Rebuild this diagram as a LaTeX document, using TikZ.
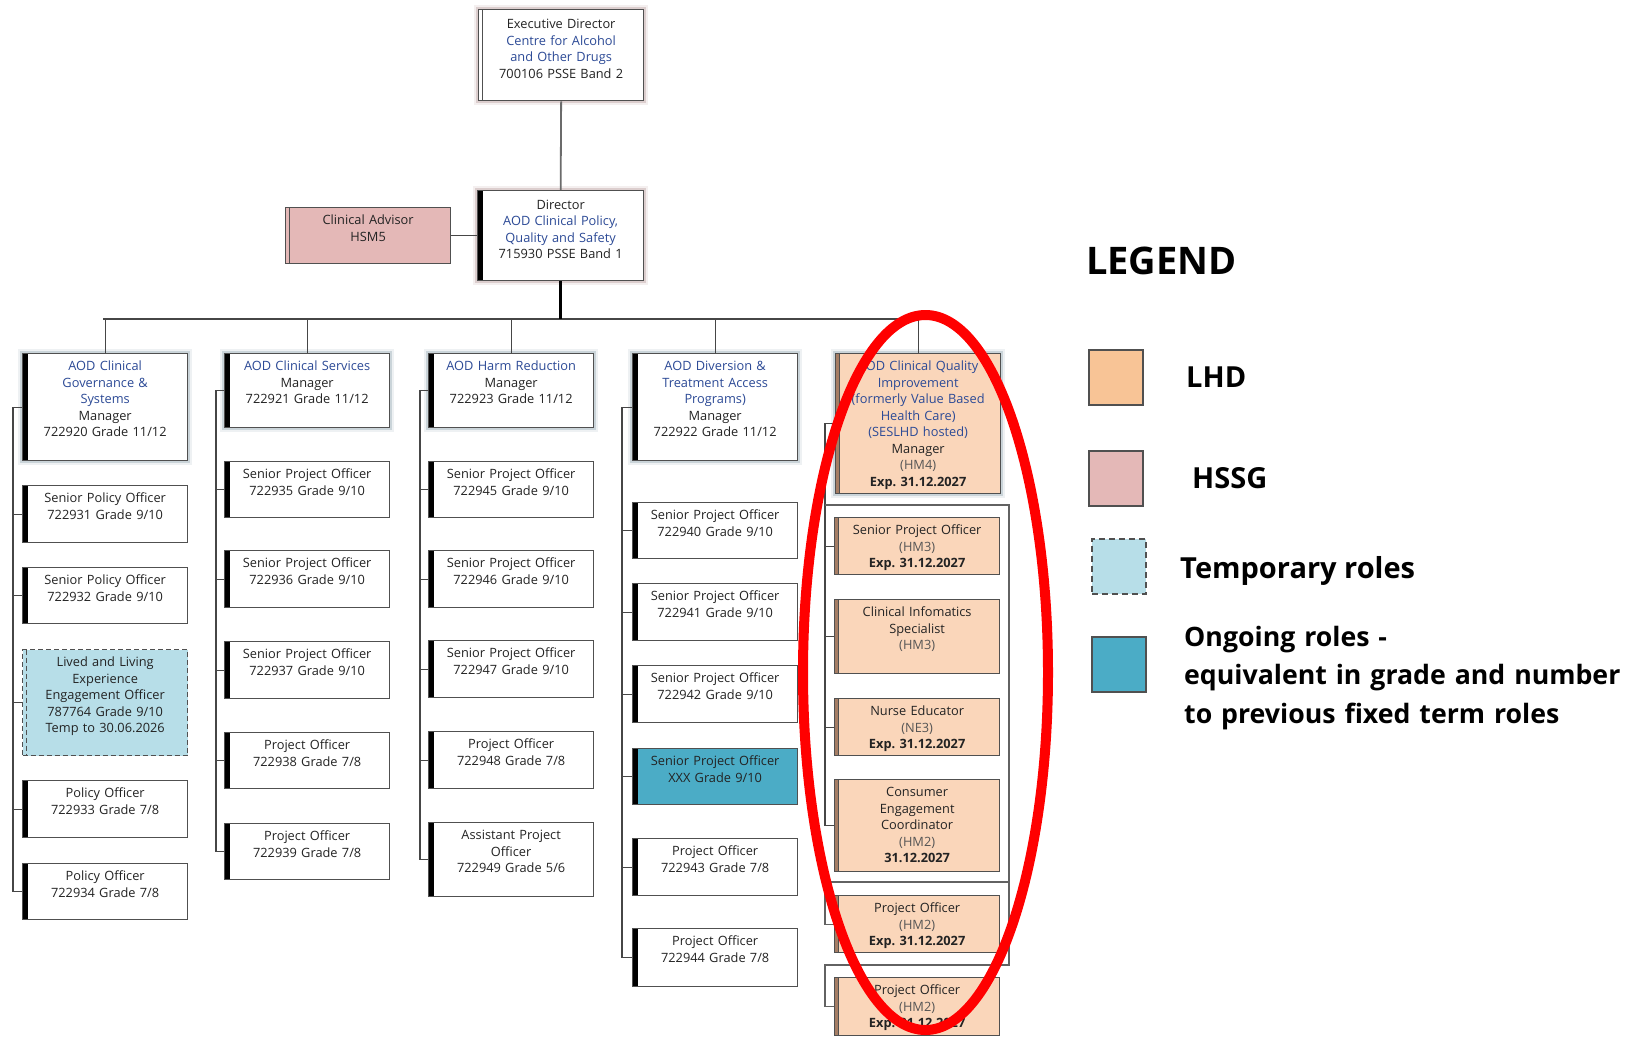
\documentclass[tikz,border=0pt]{standalone}
\usepackage{fontspec}
\setmainfont{Open Sans}
\definecolor{boxline}{RGB}{80,80,80}
\definecolor{txt}{RGB}{35,35,35}
\definecolor{soft}{RGB}{85,85,85}
\definecolor{aodblue}{RGB}{44,74,150}
\definecolor{lhdfill}{RGB}{250,214,186}
\definecolor{lhdkey}{RGB}{248,196,150}
\definecolor{lhdedge}{RGB}{165,125,100}
\definecolor{hssg}{RGB}{228,184,183}
\definecolor{tempfill}{RGB}{183,222,232}
\definecolor{teal}{RGB}{75,172,198}
\definecolor{wire}{RGB}{70,70,70}
\definecolor{glowblue}{RGB}{120,145,160}
\definecolor{glowpink}{RGB}{165,130,130}
\newcommand\boxfont{\fontsize{12.8}{16.5}\selectfont}
\newcommand\bl[1]{\textcolor{aodblue}{#1}}
\newcommand\hm[1]{\textcolor{soft}{#1}}
\newcommand\expdate{\textbf{Exp.\ 31.12.2027}}
\tikzset{
  base/.style={draw=boxline, line width=1.3pt, fill=white, inner xsep=0pt, inner ysep=0pt,
    anchor=north west, align=center, text=txt, font=\boxfont, text height=17pt},
  sz/.style 2 args={text width=#1pt, text depth=#2pt-17pt},
  szt/.style n args={3}{text width=#1pt, text height=#3pt, text depth=#2pt-#3pt},
  bar/.style={path picture={\fill[black] (path picture bounding box.north west)
    rectangle ([xshift=5pt]path picture bounding box.south west);}},
  dbl/.style={path picture={\draw[line width=1.2pt, draw=#1]
    ([xshift=4pt]path picture bounding box.north west) --
    ([xshift=4pt]path picture bounding box.south west);}},
  lhdbar/.style={path picture={\fill[lhdedge] (path picture bounding box.north west)
    rectangle ([xshift=4pt]path picture bounding box.south west);
    \draw[line width=1pt, draw=boxline]
    ([xshift=4pt]path picture bounding box.north west) --
    ([xshift=4pt]path picture bounding box.south west);}},
  glow/.style={preaction={draw=#1, fill=none, line width=9pt, opacity=0.12},
    preaction={draw=#1, fill=none, line width=5pt, opacity=0.3}},
  role/.style={base, bar},
  mgr/.style={base, bar, glow=glowblue},
  lhd/.style={base, fill=lhdfill, lhdbar},
  temp/.style={base, fill=tempfill, dashed, dash pattern=on 5pt off 3pt,
    path picture={\draw[line width=1.1pt, draw=boxline, dash pattern=on 5pt off 3pt]
    ([xshift=4pt]path picture bounding box.north west) --
    ([xshift=4pt]path picture bounding box.south west);}},
  ongoing/.style={base, fill=teal, bar},
  link/.style={draw=wire, line width=1.3pt},
  key/.style={draw=boxline, line width=1.5pt, minimum width=54pt, minimum height=55pt,
    inner sep=0pt, anchor=north west},
  keytext/.style={anchor=base west, inner sep=0pt, text=black,
    font=\fontsize{29}{38.5}\selectfont\bfseries}
}
\begin{document}
\begin{tikzpicture}[x=1pt,y=-1pt]
\fill[white] (0,0) rectangle (1649,1037);
\useasboundingbox (0,0) rectangle (1649,1037);

% ---- top of the chart
\node[base, szt={165}{91}{19}, dbl=boxline, glow=glowpink] (exec) at (478,9)
  {Executive Director\\\bl{Centre for Alcohol}\\\bl{and Other Drugs}\\700106 PSSE Band 2};
\node[base, bar, szt={166}{90}{18.5}, glow=glowpink] (dir) at (477,190)
  {Director\\\bl{AOD Clinical Policy,}\\\bl{Quality and Safety}\\715930 PSSE Band 1};
\node[base, fill=hssg, dbl=boxline, sz={165}{56}] (adv) at (285,207)
  {Clinical Advisor\\HSM5};

% ---- managers
\node[mgr, sz={165}{107}] (m1) at (22,353)
  {\bl{AOD Clinical}\\\bl{Governance \&}\\\bl{Systems}\\Manager\\722920 Grade 11/12};
\node[mgr, sz={165}{74}] (m2) at (224,353)
  {\bl{AOD Clinical Services}\\Manager\\722921 Grade 11/12};
\node[mgr, sz={165}{74}] (m3) at (428,353)
  {\bl{AOD Harm Reduction}\\Manager\\722923 Grade 11/12};
\node[mgr, sz={165}{107}] (m4) at (632,353)
  {\bl{AOD Diversion \&}\\\bl{Treatment Access}\\\bl{Programs)}\\Manager\\722922 Grade 11/12};
\node[lhd, glow=glowblue, sz={165}{140}] (m5) at (835,353)
  {\bl{AOD Clinical Quality}\\\bl{Improvement}\\\bl{(formerly Value Based}\\\bl{Health Care)}\\\bl{(SESLHD hosted)}\\Manager\\\hm{(HM4)}\\\expdate};

% ---- governance & systems team
\node[role, sz={165}{57}] (c1a) at (22,485) {Senior Policy Officer\\722931 Grade 9/10};
\node[role, sz={165}{56}] (c1b) at (22,567) {Senior Policy Officer\\722932 Grade 9/10};
\node[temp, sz={165}{106}] (c1c) at (22,649)
  {Lived and Living\\Experience\\Engagement Officer\\787764 Grade 9/10\\Temp to 30.06.2026};
\node[role, sz={165}{57}] (c1d) at (22,780) {Policy Officer\\722933 Grade 7/8};
\node[role, sz={165}{56}] (c1e) at (22,863) {Policy Officer\\722934 Grade 7/8};

% ---- clinical services team
\node[role, sz={165}{56}] (c2a) at (224,461) {Senior Project Officer\\722935 Grade 9/10};
\node[role, sz={165}{57}] (c2b) at (224,550) {Senior Project Officer\\722936 Grade 9/10};
\node[role, sz={165}{57}] (c2c) at (224,641) {Senior Project Officer\\722937 Grade 9/10};
\node[role, sz={165}{56}] (c2d) at (224,732) {Project Officer\\722938 Grade 7/8};
\node[role, sz={165}{56}] (c2e) at (224,823) {Project Officer\\722939 Grade 7/8};

% ---- harm reduction team
\node[role, sz={165}{56}] (c3a) at (428,461) {Senior Project Officer\\722945 Grade 9/10};
\node[role, sz={165}{57}] (c3b) at (428,550) {Senior Project Officer\\722946 Grade 9/10};
\node[role, sz={165}{57}] (c3c) at (428,640) {Senior Project Officer\\722947 Grade 9/10};
\node[role, sz={165}{57}] (c3d) at (428,731) {Project Officer\\722948 Grade 7/8};
\node[role, sz={165}{74}] (c3e) at (428,822) {Assistant Project\\Officer\\722949 Grade 5/6};

% ---- diversion & treatment access team
\node[role, sz={165}{56}] (c4a) at (632,502) {Senior Project Officer\\722940 Grade 9/10};
\node[role, sz={165}{57}] (c4b) at (632,583) {Senior Project Officer\\722941 Grade 9/10};
\node[role, sz={165}{57}] (c4c) at (632,665) {Senior Project Officer\\722942 Grade 9/10};
\node[ongoing, sz={165}{56}] (c4d) at (632,748) {Senior Project Officer\\XXX Grade 9/10};
\node[role, sz={165}{57}] (c4e) at (632,838) {Project Officer\\722943 Grade 7/8};
\node[role, sz={165}{58}] (c4f) at (632,928) {Project Officer\\722944 Grade 7/8};

% ---- clinical quality improvement team
\node[lhd, sz={165}{57}] (c5a) at (834,517)
  {Senior Project Officer\\\hm{(HM3)}\\\expdate};
\node[lhd, sz={165}{74}] (c5b) at (834,599)
  {Clinical Infomatics\\Specialist\\\hm{(HM3)}};
\node[lhd, sz={165}{57}] (c5c) at (834,698)
  {Nurse Educator\\\hm{(NE3)}\\\expdate};
\node[lhd, sz={165}{92}] (c5d) at (834,779)
  {Consumer\\Engagement\\Coordinator\\\hm{(HM2)}\\\textbf{31.12.2027}};
\node[lhd, sz={165}{57}] (c5e) at (834,895)
  {Project Officer\\\hm{(HM2)}\\\expdate};
\node[lhd, sz={165}{58}] (c5f) at (834,977)
  {Project Officer\\\hm{(HM2)}\\\expdate};

% ---- reporting lines at the top
\draw[draw=wire!80, line width=1.8pt] (exec.south) -- (dir.north);
\draw[link] (adv.east) -- (adv.east -| dir.west);
\coordinate (busL) at (103,319);
\coordinate (busR) at (917,319);
\draw[link] (busL) -- (busR);
\draw[black, line width=3pt] (dir.south) -- (dir.south |- busL);
\foreach \m in {m1,m2,m3,m4,m5} \draw[link] (\m.north) -- (\m.north |- busL);

% ---- team spines
\coordinate (s1) at (13,0);
\coordinate (s2) at (216,0);
\coordinate (s3) at (420,0);
\coordinate (s4) at (622,0);
\coordinate (s5) at (825,0);
\draw[link] (m1.west) -- (m1.west -| s1) -- (c1e.west -| s1) -- (c1e.west);
\foreach \c in {c1a,c1b,c1c,c1d} \draw[link] (\c.west -| s1) -- (\c.west);
\draw[link] (m2.west) -- (m2.west -| s2) -- (c2e.west -| s2) -- (c2e.west);
\foreach \c in {c2a,c2b,c2c,c2d} \draw[link] (\c.west -| s2) -- (\c.west);
\draw[link] (m3.west) -- (m3.west -| s3) -- (c3e.west -| s3) -- (c3e.west);
\foreach \c in {c3a,c3b,c3c,c3d} \draw[link] (\c.west -| s3) -- (\c.west);
\draw[link] (m4.west) -- (m4.west -| s4) -- (c4f.west -| s4) -- (c4f.west);
\foreach \c in {c4a,c4b,c4c,c4d,c4e} \draw[link] (\c.west -| s4) -- (\c.west);
\draw[link] (m5.west) -- (m5.west -| s5) -- (c5d.west -| s5) -- (c5d.west);
\foreach \c in {c5a,c5b,c5c} \draw[link] (\c.west -| s5) -- (\c.west);
\coordinate (gTL) at (825,505);
\coordinate (gBR) at (1009,882);
\coordinate (gB2) at (1009,965);
\draw[link, draw=wire!85] (gTL) -| (gBR) -- (gBR -| s5) -- (c5e.west -| s5) -- (c5e.west);
\draw[link, draw=wire!85] (gBR) -- (gB2) -- (gB2 -| s5) -- (c5f.west -| s5) -- (c5f.west);

% ---- highlight ring
\draw[red, line width=10pt] (925.5,672.5) ellipse [x radius=122.5pt, y radius=357.5pt];

% ---- legend
\node[anchor=base west, inner sep=0pt, text=black,
  font=\fontsize{38}{44}\selectfont\bfseries] (lgTitle) at (1086,274) {LEGEND};
\node[key, fill=lhdkey] (kLHD) at (1088,349) {};
\node[keytext] (tLHD) at (1186,387) {LHD};
\node[key, fill=hssg] (kHSSG) at (1088,450) {};
\node[keytext] (tHSSG) at (1192,488) {HSSG};
\node[key, fill=tempfill, dashed, dash pattern=on 6pt off 4pt] (kTemp) at (1091,538) {};
\node[keytext] (tTemp) at (1180,578) {Temporary roles};
\node[key, fill=teal] (kOn) at (1091,636) {};
\node[keytext, font=\fontsize{26.7}{38.7}\selectfont\bfseries, text width=520pt, align=left]
  (tOn) at (1184,646)
  {Ongoing roles -\\equivalent in grade and number\\to previous fixed term roles};
\end{tikzpicture}
\end{document}
